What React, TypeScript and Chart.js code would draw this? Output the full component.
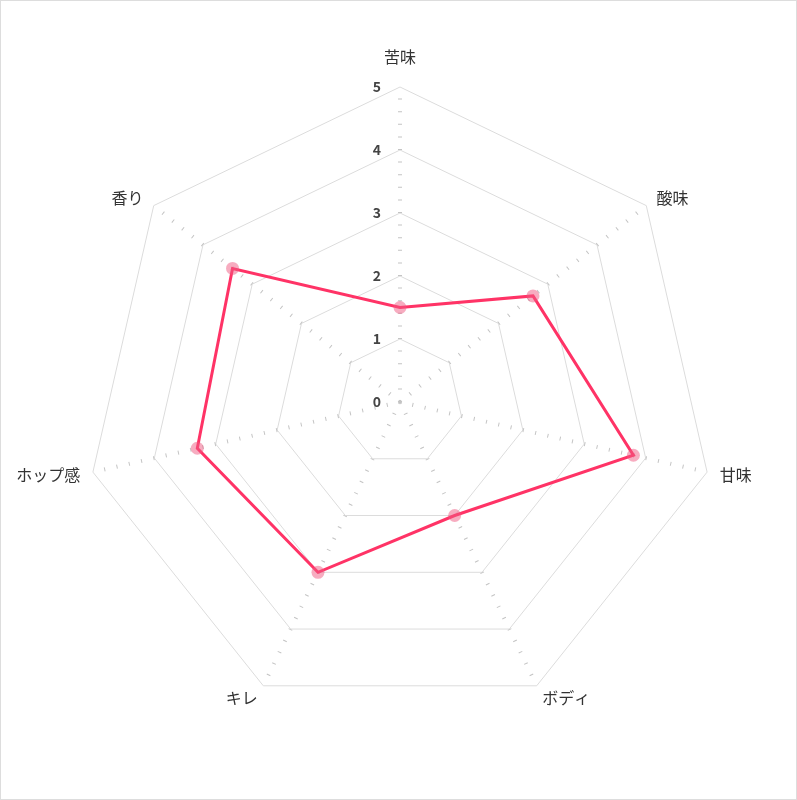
import Chart, { RadialLinearScale, Plugin } from 'chart.js/auto';
import { useEffect, useRef } from 'react';

const categories = ['苦味', '酸味', '甘味', 'ボディ', 'キレ', 'ホップ感', '香り'];
const tasteValues = [1.5, 2.7, 3.8, 2.0, 3.0, 3.3, 3.4];
const scaleMin = 0;
const scaleMax = 5;
const scaleStep = 1;

const FONT = '"Noto Sans CJK JP", "Noto Sans", sans-serif';

// 目盛りの数字（軸の左側）と項目名を自前で描く
const radarLabels: Plugin<'radar'> = {
  id: 'radarLabels',
  beforeDatasetsDraw(chart) {
    const scale = chart.scales.r as RadialLinearScale;
    const ctx = chart.ctx;
    ctx.save();

    ctx.font = `bold 14px ${FONT}`;
    ctx.fillStyle = '#444';
    ctx.textAlign = 'right';
    ctx.textBaseline = 'middle';
    scale.ticks.forEach((t) => {
      const d = scale.getDistanceFromCenterForValue(t.value);
      ctx.fillText(String(t.label), scale.xCenter - 19, scale.yCenter - d);
    });

    ctx.font = `16px ${FONT}`;
    ctx.fillStyle = '#333';
    const labels = (chart.data.labels || []) as string[];
    labels.forEach((label, i) => {
      const top = i === 0;
      const pos = scale.getPointPosition(i, scale.drawingArea + 13 + (top ? 9 : 0));
      const dx = pos.x - scale.xCenter;
      ctx.textAlign = Math.abs(dx) < 1 ? 'center' : dx > 0 ? 'left' : 'right';
      ctx.textBaseline = top ? 'bottom' : 'middle';
      ctx.fillText(label, pos.x, pos.y);
    });

    ctx.restore();
  },
};

const TasteRadar = () => {
  const chartRef = useRef<HTMLCanvasElement | null>(null);

  useEffect(() => {
    document.body.style.margin = '0';
    if (!chartRef.current) return;
    const ctx = chartRef.current.getContext('2d');
    if (!ctx) return;

    const chartInstance = new Chart(ctx, {
      type: 'radar',
      data: {
        labels: categories,
        datasets: [
          {
            label: 'taste',
            data: tasteValues,
            borderColor: 'rgb(255, 51, 102)',
            borderWidth: 3,
            backgroundColor: 'rgba(0,0,0,0)',
            fill: false,
            pointRadius: 6.5,
            pointBorderWidth: 0,
            pointBackgroundColor: 'rgba(240, 90, 130, 0.5)',
            pointBorderColor: 'rgba(0,0,0,0)',
          },
        ],
      },
      options: {
        animation: false,
        responsive: true,
        maintainAspectRatio: false,
        layout: {
          padding: { left: 84, right: 81, top: 86, bottom: 82 },
        },
        plugins: {
          legend: { display: false },
          tooltip: { enabled: false },
        },
        scales: {
          r: {
            min: scaleMin,
            max: scaleMax,
            beginAtZero: true,
            ticks: {
              stepSize: scaleStep,
              display: false,
            },
            grid: {
              color: '#dcdcdc',
              lineWidth: 1,
            },
            angleLines: {
              color: '#c4c4c4',
              lineWidth: 4,
              borderDash: [1, 11.6],
            },
            pointLabels: {
              display: false,
            },
          },
        },
      },
      plugins: [radarLabels],
    });

    return () => {
      chartInstance.destroy();
    };
  }, []);

  return (
    <div
      style={{
        width: 797,
        height: 800,
        boxSizing: 'border-box',
        border: '1px solid #ddd',
        position: 'relative',
        background: '#fff',
      }}
    >
      <canvas ref={chartRef}></canvas>
    </div>
  );
};

export default TasteRadar;
